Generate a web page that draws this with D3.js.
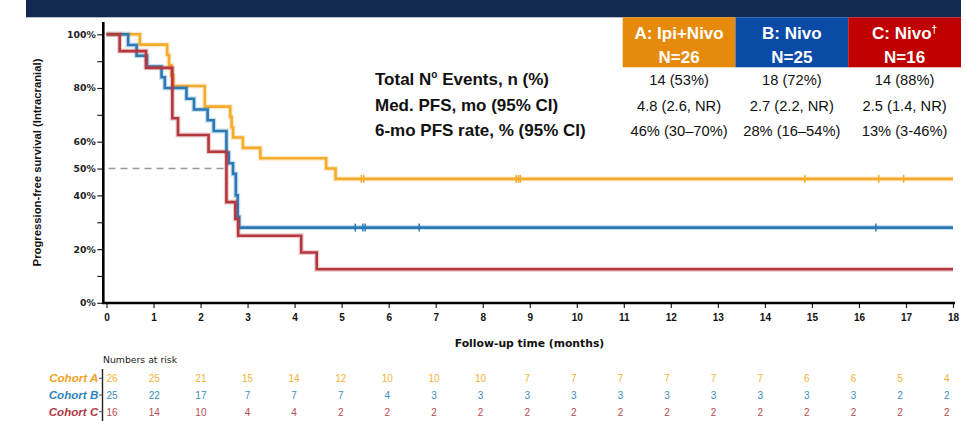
<!DOCTYPE html>
<html>
<head>
<meta charset="utf-8">
<script src="https://cdn.jsdelivr.net/npm/d3@7"></script>
<style>
  body { margin: 0; background: #fff; }
  svg { display: block; }
</style>
</head>
<body>
<svg id="chart" width="966" height="421"></svg>
<script>
// ---- data ----
const monthTicks = [0,1,2,3,4,5,6,7,8,9,10,11,12,13,14,15,16,17,18];
const pctTicks = [0,10,20,30,40,50,60,70,80,90,100];
const pctLabeled = [0,20,40,50,60,80,100];

const cohortNames = ["Cohort A", "Cohort B", "Cohort C"];
const armTitles = ["A: Ipi+Nivo", "B: Nivo", "C: Nivo"];
const armN = ["N=26", "N=25", "N=16"];

// Kaplan–Meier steps: [month, PFS %]
const stepsA = [[0,100],[0.71,96.15],[1.29,92.31],[1.33,88.46],[1.38,84.62],[1.42,80.77],[2.09,73.08],[2.63,69.23],[2.66,65.38],[2.69,61.54],[2.90,57.69],[3.27,53.85],[4.67,50.00],[4.87,46.15]];
const stepsB = [[0,100],[0.46,96],[0.64,92],[0.86,88],[1.17,84],[1.24,80],[1.70,76],[1.86,72],[2.15,68],[2.28,64],[2.55,56],[2.60,52],[2.69,48],[2.75,40],[2.79,32],[2.82,28]];
const stepsC = [[0,100],[0.28,93.75],[0.84,87.5],[1.40,68.75],[1.52,62.5],[2.17,56.25],[2.55,37.5],[2.74,31.25],[2.80,25],[4.14,18.75],[4.47,12.5]];

// censored observations (months)
const censorA = [5.42,5.47,8.71,8.76,8.80,14.85,16.42,16.95];
const censorB = [5.29,5.45,5.50,6.65,16.36];
const censorC = [];

const followUpEnd = 18;

// numbers at risk at each month
const riskA = [26,25,21,15,14,12,10,10,10,7,7,7,7,7,7,6,6,5,4];
const riskB = [25,22,17,7,7,7,4,3,3,3,3,3,3,3,3,3,3,2,2];
const riskC = [16,14,10,4,4,2,2,2,2,2,2,2,2,2,2,2,2,2,2];

// summary table
const statLabels = ["Total N|o| Events, n (%)", "Med. PFS, mo (95% CI)", "6-mo PFS rate, % (95% CI)"];
const statsA = ["14 (53%)", "4.8 (2.6, NR)", "46% (30\u201370%)"];
const statsB = ["18 (72%)", "2.7 (2.2, NR)", "28% (16\u201354%)"];
const statsC = ["14 (88%)", "2.5 (1.4, NR)", "13% (3-46%)"];

// ---- styling ----
const curveColors = ["#F4AC2C", "#2A7AB5", "#B5383F"];
const labelColors = ["#F0A21E", "#2F86BC", "#B03A45"];
const riskColors  = ["#F2B237", "#3C8DBF", "#B84A50"];
const boxColors   = ["#E68A0B", "#0A4BA8", "#C00000"];
const navy = "#12294F";
const sans = "'Liberation Sans', Arial, sans-serif";
const wide = "'DejaVu Sans', sans-serif";

const svg = d3.select("#chart");

// top banner
svg.append("rect").attr("x", 26).attr("y", 0).attr("width", 935).attr("height", 17.3).attr("fill", navy);

// scales
const x = d3.scaleLinear().domain([0, 18]).range([106.5, 953]);
const y = d3.scaleLinear().domain([0, 100]).range([302.8, 34.3]);

// ---- summary table header boxes ----
const boxX = d3.scaleBand().domain([0,1,2]).range([622.7, 961]);
const hdr = svg.append("g");
[0,1,2].forEach(i => {
  hdr.append("rect")
    .attr("x", boxX(i)).attr("y", 17.3)
    .attr("width", boxX.bandwidth()).attr("height", 50)
    .attr("fill", boxColors[i]);
  const cx = boxX(i) + boxX.bandwidth() / 2;
  const t = hdr.append("text")
    .attr("x", cx).attr("y", 38.5)
    .attr("text-anchor", "middle")
    .attr("font-family", sans).attr("font-weight", "bold").attr("font-size", 17)
    .attr("fill", "#fff")
    .text(armTitles[i]);
  if (i === 2) {
    t.append("tspan").attr("font-size", 10).attr("dy", -6).text("\u2020");
  }
  hdr.append("text")
    .attr("x", cx).attr("y", 62.5)
    .attr("text-anchor", "middle")
    .attr("font-family", sans).attr("font-weight", "bold").attr("font-size", 17)
    .attr("fill", "#fff")
    .text(armN[i]);
});

// summary rows
const rowY = [85, 111, 136];
statLabels.forEach((lab, r) => {
  const t = svg.append("text")
    .attr("x", 375).attr("y", rowY[r])
    .attr("font-family", sans).attr("font-weight", "bold").attr("font-size", 17)
    .attr("fill", "#111");
  const parts = lab.split("|");
  if (parts.length === 3) {
    t.append("tspan").text(parts[0]);
    t.append("tspan").attr("font-size", 10).attr("dy", -7).text(parts[1]);
    t.append("tspan").attr("dy", 7).text(parts[2]);
  } else {
    t.text(lab);
  }
  [statsA, statsB, statsC].forEach((vals, i) => {
    svg.append("text")
      .attr("x", boxX(i) + boxX.bandwidth() / 2).attr("y", rowY[r] - 0.5)
      .attr("text-anchor", "middle")
      .attr("font-family", sans).attr("font-size", 14.7)
      .attr("fill", "#111")
      .text(vals[r]);
  });
});

// ---- axes ----
const axisG = svg.append("g");
// y axis
const yAxis = d3.axisLeft(y).tickValues(pctTicks).tickSize(6).tickPadding(1.5)
  .tickFormat(d => pctLabeled.includes(d) ? d + "%" : "");
const yg = axisG.append("g").attr("transform", "translate(103.3,0)").call(yAxis);
yg.select(".domain").remove();
yg.selectAll(".tick line").attr("stroke", "#222").attr("stroke-width", 1.2);
yg.selectAll(".tick text").attr("font-family", wide).attr("font-weight", "bold")
  .attr("font-size", 9.3).attr("fill", "#222");
axisG.append("line").attr("x1", 103.3).attr("x2", 103.3).attr("y1", 22).attr("y2", 304)
  .attr("stroke", "#000").attr("stroke-width", 2.6);

// x axis
const xAxis = d3.axisBottom(x).tickValues(monthTicks).tickSize(5).tickFormat(d3.format("d"));
const xg = axisG.append("g").attr("transform", "translate(0,303)").call(xAxis);
xg.select(".domain").remove();
xg.selectAll(".tick line").attr("stroke", "#222").attr("stroke-width", 1.2);
xg.selectAll(".tick text").attr("y", 17.5).attr("dy", 0)
  .attr("font-family", sans).attr("font-weight", "bold").attr("font-size", 10).attr("fill", "#111");
axisG.append("line").attr("x1", 102).attr("x2", 955).attr("y1", 303).attr("y2", 303)
  .attr("stroke", "#000").attr("stroke-width", 2.6);

// axis titles
svg.append("text")
  .attr("transform", "translate(40.5,162.5) rotate(-90)")
  .attr("text-anchor", "middle")
  .attr("font-family", sans).attr("font-weight", "bold").attr("font-size", 11.3)
  .attr("fill", "#111")
  .text("Progression-free survival (Intracranial)");
svg.append("text")
  .attr("x", 529.5).attr("y", 346.7)
  .attr("text-anchor", "middle")
  .attr("font-family", wide).attr("font-weight", "bold").attr("font-size", 10.8)
  .attr("fill", "#111")
  .text("Follow-up time (months)");

// ---- median reference line (cohort C crosses 50%) ----
const medianC = stepsC.find(d => d[1] <= 50)[0];
svg.append("line")
  .attr("x1", x(0) + 2).attr("x2", x(medianC))
  .attr("y1", y(50)).attr("y2", y(50))
  .attr("stroke", "#9a9a9a").attr("stroke-width", 1.6)
  .attr("stroke-dasharray", "7,5");

// ---- survival curves ----
const line = d3.line().x(d => x(d[0])).y(d => y(d[1])).curve(d3.curveStepAfter);
const allSteps = [stepsA, stepsB, stepsC];
const allCensor = [censorA, censorB, censorC];
const curvesG = svg.append("g").attr("fill", "none");
allSteps.forEach((steps, i) => {
  const pts = steps.concat([[followUpEnd, steps[steps.length - 1][1]]]);
  curvesG.append("path").attr("d", line(pts))
    .attr("stroke", curveColors[i]).attr("stroke-width", 5).attr("stroke-opacity", 0.25);
  curvesG.append("path").attr("d", line(pts))
    .attr("stroke", curveColors[i]).attr("stroke-width", 2.6);
  const last = steps[steps.length - 1][1];
  curvesG.selectAll(null).data(allCensor[i]).enter().append("line")
    .attr("x1", d => x(d)).attr("x2", d => x(d))
    .attr("y1", y(last) - 4).attr("y2", y(last) + 4)
    .attr("stroke", curveColors[i]).attr("stroke-width", 1.5);
});

// ---- numbers at risk ----
const riskRowY = [382.3, 399, 415.7];
const riskX = d3.scaleLinear().domain([1, 18]).range([154.3, 946.7]);
svg.append("text")
  .attr("x", 103).attr("y", 363.3)
  .attr("font-family", wide).attr("font-size", 9.3).attr("fill", "#222")
  .text("Numbers at risk");
svg.append("line").attr("x1", 102.5).attr("x2", 102.5).attr("y1", 369).attr("y2", 421)
  .attr("stroke", "#222").attr("stroke-width", 1.4);
[riskA, riskB, riskC].forEach((row, i) => {
  svg.append("text")
    .attr("x", 98.3).attr("y", riskRowY[i])
    .attr("text-anchor", "end")
    .attr("font-family", sans).attr("font-weight", "bold").attr("font-style", "italic")
    .attr("font-size", 11.6).attr("fill", labelColors[i])
    .text(cohortNames[i]);
  svg.append("line").attr("x1", 99).attr("x2", 102.5)
    .attr("y1", riskRowY[i] - 4).attr("y2", riskRowY[i] - 4)
    .attr("stroke", "#555").attr("stroke-width", 1);
  svg.selectAll(null).data(row).enter().append("text")
    .attr("x", (d, k) => k === 0 ? x(0) : riskX(k))
    .attr("y", riskRowY[i])
    .attr("text-anchor", (d, k) => k === 0 ? "start" : "middle")
    .attr("font-family", sans).attr("font-size", 10)
    .attr("fill", riskColors[i])
    .text(d => d);
});
</script>
</body>
</html>
